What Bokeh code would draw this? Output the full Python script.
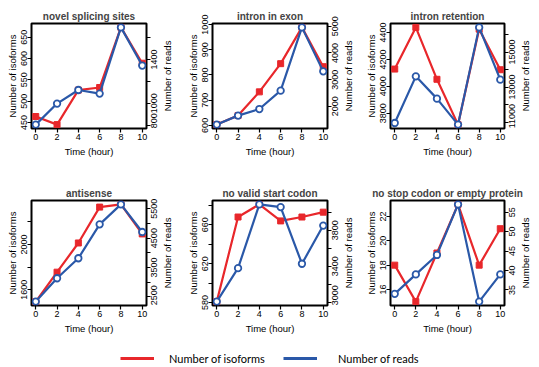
import math
from bokeh.plotting import figure
from bokeh.models import Range1d, LinearAxis, FixedTicker, Legend, LegendItem
from bokeh.layouts import column, row
from bokeh.embed import file_html
from bokeh.resources import INLINE

# ---------------- data ----------------
time_h = [0, 2, 4, 6, 8, 10]
time_ticks = [0, 2, 4, 6, 8, 10]

titles = ["novel splicing sites", "intron in exon", "intron retention",
          "antisense", "no valid start codon", "no stop codon or empty protein"]

iso_novel = [464, 445, 526, 532, 673, 589]
reads_novel = [806, 998, 1122, 1089, 1693, 1345]

iso_intron_exon = [603, 639, 733, 845, 989, 833]
reads_intron_exon = [1315, 1652, 1899, 2588, 4959, 3311]

iso_retention = [4128, 4438, 4052, 3715, 4425, 4123]
reads_retention = [10943, 13611, 12337, 10851, 16411, 13423]

iso_antisense = [1496, 1756, 2014, 2331, 2355, 2094]
reads_antisense = [2340, 3135, 3815, 4969, 5648, 4708]

iso_nostart = [581, 668, 681, 664, 668, 673]
reads_nostart = [3008, 3379, 4086, 4056, 3428, 3851]

iso_nostop = [18, 15, 19, 23, 18, 21]
reads_nostop = [34, 39, 44, 57, 32, 39]

# tick positions and which get labels
left_ticks = [[450, 500, 550, 600, 650], [600, 700, 800, 900, 1000], [3800, 4000, 4200, 4400],
              [1600, 1800, 2000, 2200], [580, 600, 620, 640, 660, 680], [16, 18, 20, 22]]
left_labeled = [[450, 500, 550, 600, 650], [600, 700, 800, 900, 1000], [3800, 4000, 4200, 4400],
                [1600, 2000], [580, 620, 660], [16, 18, 20, 22]]
right_ticks = [[800, 1000, 1200, 1400, 1600], [2000, 3000, 4000, 5000],
               [11000, 12000, 13000, 14000, 15000, 16000],
               [2500, 3000, 3500, 4000, 4500, 5000, 5500],
               [3000, 3200, 3400, 3600, 3800, 4000], [35, 40, 45, 50, 55]]
right_labeled = [[800, 1000, 1400], [2000, 3000, 4000, 5000], [11000, 13000, 15000],
                 [2500, 3500, 4500, 5500], [3000, 3400, 3800], [35, 40, 45, 50, 55]]

iso_all = [iso_novel, iso_intron_exon, iso_retention, iso_antisense, iso_nostart, iso_nostop]
reads_all = [reads_novel, reads_intron_exon, reads_retention, reads_antisense, reads_nostart, reads_nostop]

x_title = "Time (hour)"
left_title = "Number of isoforms"
right_title = "Number of reads"
legend_labels = ["Number of isoforms", "Number of reads"]

RED = "#e8272b"
BLUE = "#2a58a8"
FONT = "Liberation Sans"
FRAME_H = 105
TICK_FS = 9.0      # px
TITLE_FS = 9.5     # px
DIGIT_EM = 0.556   # Liberation Sans digit advance
RIGHT_TITLE_EM = 7.447  # advance of "Number of reads" in em


def padded(vals, frac=0.04):
    lo, hi = min(vals), max(vals)
    d = (hi - lo) * frac
    return lo - d, hi + d


def style_axis(ax, ticks, labeled):
    ax.ticker = FixedTicker(ticks=ticks)
    ax.major_label_overrides = {t: (str(t) if t in labeled else "") for t in ticks}
    ax.axis_line_color = None
    ax.major_tick_line_color = "black"
    ax.major_tick_line_width = 1.2
    ax.major_tick_out = 4
    ax.major_tick_in = 0
    ax.minor_tick_line_color = None
    ax.major_label_text_font = FONT
    ax.major_label_text_font_size = f"{TICK_FS}px"
    ax.major_label_text_color = "black"
    ax.axis_label_text_font = FONT
    ax.axis_label_text_font_size = f"{TITLE_FS}px"
    ax.axis_label_text_font_style = "normal"
    ax.axis_label_text_color = "black"
    ax.major_label_standoff = 1


def text_axis(values, texts, lengths_px, rlo, rhi, standoff, font_size):
    """Right-side axis carrying only rotated (bottom-to-top) texts, centred on their values."""
    span = rhi - rlo
    ppu = FRAME_H / span
    eps = span * 2e-3
    # rotated text starts at its tick; keep every start inside the range so none is dropped
    starts = [round(max(v - (L / 2) / ppu, rlo + eps), 4) for v, L in zip(values, lengths_px)]
    ax = LinearAxis(y_range_name="reads", ticker=FixedTicker(ticks=starts))
    ax.major_label_overrides = {s: t for s, t in zip(starts, texts)}
    ax.axis_line_color = None
    ax.major_tick_line_color = None
    ax.major_tick_out = 0
    ax.major_tick_in = 0
    ax.minor_tick_line_color = None
    ax.major_label_orientation = math.pi / 2
    ax.major_label_standoff = int(standoff)
    ax.major_label_text_font = FONT
    ax.major_label_text_font_size = f"{font_size}px"
    ax.major_label_text_color = "black"
    return ax


def make_panel(i, width, height, top, bottom, left, right):
    iso = iso_all[i]
    reads = reads_all[i]
    ylo, yhi = padded(iso)
    rlo, rhi = padded(reads)
    p = figure(width=width, height=height, output_backend="svg", toolbar_location=None,
               x_range=Range1d(-0.4, 10.4), y_range=Range1d(ylo, yhi),
               min_border_top=top, min_border_bottom=bottom,
               min_border_left=left, min_border_right=right, title=titles[i])
    p.extra_y_ranges = {"reads": Range1d(rlo, rhi)}
    p.grid.visible = False
    p.outline_line_color = "black"
    p.outline_line_width = 2
    p.outline_line_alpha = 1
    p.background_fill_color = "white"
    p.border_fill_color = "white"
    p.title.align = "center"
    p.title.text_font = FONT
    p.title.text_font_size = "10px"
    p.title.text_font_style = "bold"
    p.title.standoff = 4
    p.title.offset = 0

    xa = p.xaxis[0]
    style_axis(xa, time_ticks, time_ticks)
    xa.axis_label = x_title
    xa.axis_label_standoff = 3

    yl = p.yaxis[0]
    style_axis(yl, left_ticks[i], left_labeled[i])
    yl.axis_label = left_title
    yl.major_label_orientation = "vertical"
    yl.major_label_standoff = 0
    yl.axis_label_standoff = 1

    # right axis: tick marks
    yr = LinearAxis(y_range_name="reads")
    style_axis(yr, right_ticks[i], [])
    yr.major_label_text_font_size = "0px"
    yr.major_label_standoff = 0
    p.add_layout(yr, "right")
    # right axis: tick labels (bottom-to-top like the left ones)
    labs = right_labeled[i]
    p.add_layout(text_axis(labs, [str(v) for v in labs],
                           [len(str(v)) * DIGIT_EM * TICK_FS for v in labs],
                           rlo, rhi, 4, TICK_FS), "right")
    # right axis: title
    p.add_layout(text_axis([(rlo + rhi) / 2], [right_title], [RIGHT_TITLE_EM * TITLE_FS],
                           rlo, rhi, 4, TITLE_FS), "right")

    p.line(time_h, iso, line_color=RED, line_width=2.2, line_join="round")
    p.scatter(time_h, iso, marker="square", size=6, fill_color=RED, line_color=RED)
    p.line(time_h, reads, y_range_name="reads", line_color=BLUE, line_width=2.2, line_join="round")
    p.scatter(time_h, reads, y_range_name="reads", marker="circle", size=6.5,
              fill_color="white", line_color=BLUE, line_width=1.8)
    return p


cols = [(181, 31, 33), (181, 31, 33), (177, 27, 33)]
row1 = [make_panel(i, cols[i][0], 177, 23, 49, cols[i][1], cols[i][2]) for i in range(3)]
row2 = [make_panel(i + 3, cols[i][0], 163, 23, 35, cols[i][1], cols[i][2]) for i in range(3)]

leg = figure(width=539, height=27, output_backend="svg", toolbar_location=None,
             x_range=Range1d(0, 1), y_range=Range1d(0, 1), min_border=0,
             x_axis_location=None, y_axis_location=None)
leg.grid.visible = False
leg.outline_line_color = None
leg.border_fill_color = "white"
# legend proxies: lines kept outside the visible range
r_iso = leg.line([5, 6], [5, 6], line_color=RED, line_width=3)
r_reads = leg.line([5, 6], [5, 6], line_color=BLUE, line_width=3)
for rend, lab, xpos, standoff in [(r_iso, legend_labels[0], 120, 15),
                                  (r_reads, legend_labels[1], 283, 21)]:
    lg = Legend(items=[LegendItem(label=lab, renderers=[rend])], location=(xpos, 2),
                orientation="horizontal", glyph_width=34, glyph_height=14, label_height=14,
                label_standoff=standoff, padding=0, margin=0, border_line_color=None,
                background_fill_alpha=0, label_text_font="Lato", label_text_font_size="11px",
                label_text_color="black")
    leg.add_layout(lg)

layout = column(row(*row1), row(*row2), leg)
open("out.html", "w").write(file_html(layout, INLINE))
